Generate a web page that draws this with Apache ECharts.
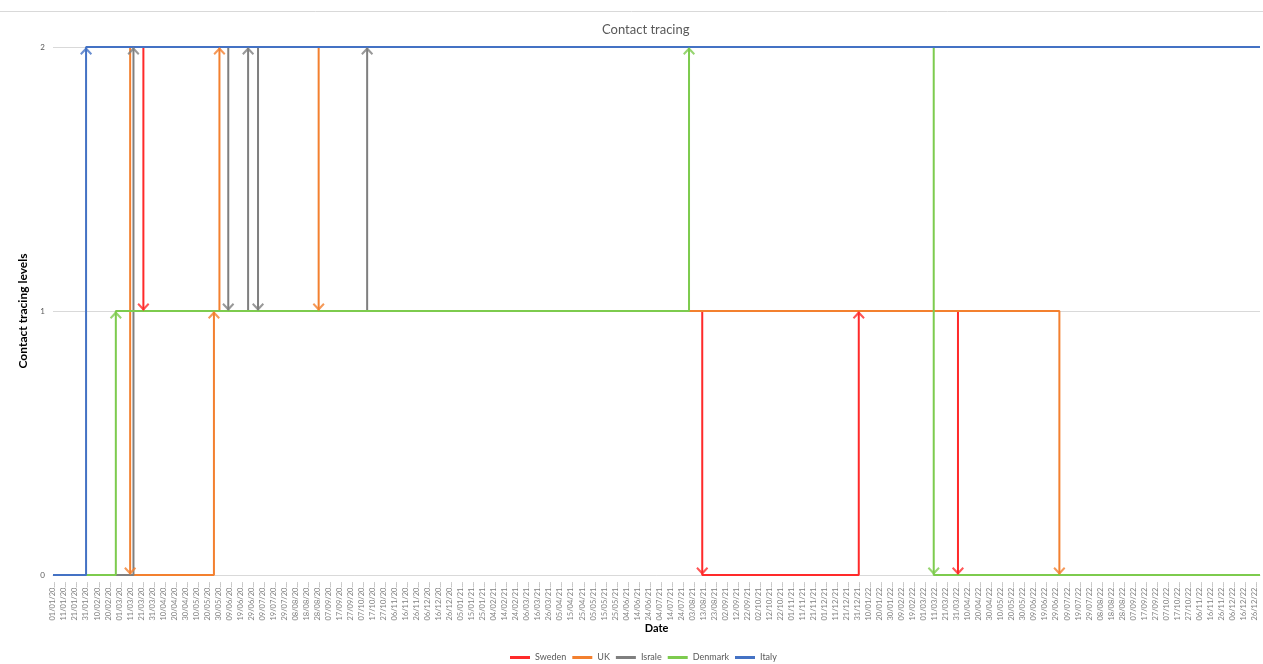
<!DOCTYPE html>
<html>
<head>
<meta charset="utf-8">
<title>Contact tracing</title>
<script src="https://cdn.jsdelivr.net/npm/echarts@6/dist/echarts.min.js"></script>
<style>
  html, body { margin: 0; padding: 0; background: #ffffff; }
  #chart { width: 1263px; height: 664px; }
</style>
</head>
<body>
<div id="chart"></div>
<script>
// Daily date range shown on the category axis (labels every 10 days)
const startDate = '01/01/20';
const endDate = '31/12/22';

// Contact tracing level per country: first entry is where the line begins,
// every following entry is a change of level on that date.
const seriesNames = ['Sweden', 'UK', 'Israle', 'Denmark', 'Italy'];
const sweden  = [['23/03/20', 2], ['23/03/20', 1], ['12/08/21', 0], ['01/01/22', 1], ['01/04/22', 0]];
const uk      = [['11/03/20', 2], ['11/03/20', 0], ['26/05/20', 1], ['31/05/20', 2], ['29/08/20', 1], ['02/07/22', 0]];
const israle  = [['01/01/20', 0], ['14/03/20', 2], ['08/06/20', 1], ['26/06/20', 2], ['05/07/20', 1], ['12/10/20', 2]];
const denmark = [['01/01/20', 0], ['27/02/20', 1], ['31/07/21', 2], ['10/03/22', 0]];
const italy   = [['01/01/20', 0], ['31/01/20', 2]];
const levelTicks = [0, 1, 2];

const colors = ['#FF2A2A', '#F3802F', '#7F7F7F', '#7DCB4E', '#4472C4'];
const steps = [sweden, uk, israle, denmark, italy];

function parseDate(s) {
  const [d, m, y] = s.split('/').map(Number);
  return Date.UTC(2000 + y, m - 1, d);
}
function fmt(t) {
  const dt = new Date(t);
  const dd = String(dt.getUTCDate()).padStart(2, '0');
  const mm = String(dt.getUTCMonth() + 1).padStart(2, '0');
  const yy = String(dt.getUTCFullYear() % 100).padStart(2, '0');
  return dd + '/' + mm + '/' + yy;
}

const DAY = 86400000;
const t0 = parseDate(startDate);
const t1 = parseDate(endDate);
const categories = [];
for (let t = t0; t <= t1; t += DAY) categories.push(fmt(t));
const lastIdx = categories.length - 1;
const idx = s => Math.round((parseDate(s) - t0) / DAY);

// Step path: horizontal runs joined by vertical jumps
function buildLine(st) {
  const pts = [[idx(st[0][0]), st[0][1]]];
  let level = st[0][1];
  for (let i = 1; i < st.length; i++) {
    const x = idx(st[i][0]);
    pts.push([x, level]);
    level = st[i][1];
    pts.push([x, level]);
  }
  pts.push([lastIdx, level]);
  return pts;
}
// Arrow heads at the end of every jump
function buildArrows(st) {
  const out = [];
  for (let i = 1; i < st.length; i++) {
    const up = st[i][1] > st[i - 1][1];
    out.push({
      value: [idx(st[i][0]), st[i][1]],
      symbolRotate: up ? 0 : 180,
      symbolOffset: [0, up ? 4 : -4]
    });
  }
  return out;
}

const chevron = 'path://M6,0 L12,6.2 L10.6,7.6 L6,3 L1.4,7.6 L0,6.2 Z';

const series = [];
steps.forEach((st, i) => {
  series.push({
    name: seriesNames[i],
    type: 'line',
    data: buildLine(st),
    showSymbol: false,
    color: colors[i],
    lineStyle: { width: 2, color: colors[i] },
    z: 2 + i
  });
});
steps.forEach((st, i) => {
  series.push({
    name: seriesNames[i],
    type: 'scatter',
    data: buildArrows(st),
    symbol: chevron,
    symbolSize: [12, 8],
    itemStyle: { color: colors[i] },
    z: 10 + i
  });
});

const chart = echarts.init(document.getElementById('chart'), null, { renderer: 'canvas' });
chart.setOption({
  animation: false,
  textStyle: { fontFamily: 'Lato, "Liberation Sans", sans-serif' },
  title: {
    text: 'Contact tracing',
    left: 597,
    top: 18,
    textStyle: { fontSize: 13, fontWeight: 'normal', color: '#595959' }
  },
  graphic: [{
    type: 'line',
    shape: { x1: 0, y1: 11.5, x2: 1263, y2: 11.5 },
    style: { stroke: '#D9D9D9', lineWidth: 1 }
  }],
  legend: {
    data: seriesNames,
    top: 648,
    left: 505,
    icon: 'rect',
    itemWidth: 20,
    itemHeight: 3,
    itemGap: 6,
    textStyle: { fontSize: 9, color: '#595959' }
  },
  grid: { left: 53, right: 3, top: 47, bottom: 89, containLabel: false },
  xAxis: {
    type: 'category',
    data: categories,
    boundaryGap: false,
    name: 'Date',
    nameLocation: 'middle',
    nameGap: 48,
    nameMoveOverlap: false,
    nameTextStyle: { fontSize: 11, fontWeight: 'bold', color: '#000000' },
    axisLine: { lineStyle: { color: '#D9D9D9', width: 1 } },
    axisTick: { show: false },
    axisLabel: {
      interval: 9,
      rotate: 90,
      fontSize: 7.5,
      color: '#7F7F7F',
      margin: 7,
      formatter: v => v + '…'
    },
    splitLine: { show: false }
  },
  yAxis: {
    type: 'value',
    min: levelTicks[0],
    max: levelTicks[levelTicks.length - 1],
    interval: 1,
    name: 'Contact tracing levels',
    nameLocation: 'middle',
    nameGap: 16,
    nameTextStyle: { fontSize: 12, fontWeight: 'bold', color: '#000000' },
    axisLine: { show: false },
    axisTick: { show: false },
    axisLabel: { fontSize: 8, color: '#595959', margin: 8 },
    splitLine: { lineStyle: { color: '#D9D9D9', width: 1 } }
  },
  series: series
});
</script>
</body>
</html>
